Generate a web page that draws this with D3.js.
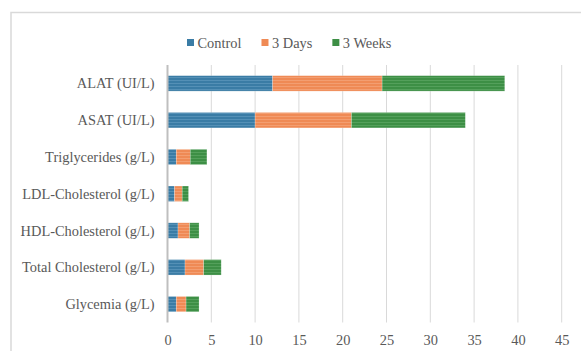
<!DOCTYPE html>
<html>
<head>
<meta charset="utf-8">
<script src="https://cdn.jsdelivr.net/npm/d3@7"></script>
<style>
  html, body { margin: 0; padding: 0; background: #fff; }
  svg { display: block; }
</style>
</head>
<body>
<svg id="chart" width="581" height="351"></svg>
<script>
const categories = ["ALAT (UI/L)", "ASAT (UI/L)", "Triglycerides (g/L)", "LDL-Cholesterol (g/L)", "HDL-Cholesterol (g/L)", "Total Cholesterol (g/L)", "Glycemia (g/L)"];
const seriesNames = ["Control", "3 Days", "3 Weeks"];
const control = [12.0, 10.0, 1.0, 0.8, 1.2, 2.0, 1.0];
const days3   = [12.5, 11.0, 1.6, 0.88, 1.33, 2.13, 1.12];
const weeks3  = [14.0, 13.0, 1.9, 0.72, 1.07, 2.0, 1.48];
const tickValues = [0, 5, 10, 15, 20, 25, 30, 35, 40, 45];
const colors = ["#3a7ca5", "#ef8a55", "#3d8f45"];
const stripeColors = ["#5a95ba", "#f5a378", "#5aa560"];

const svg = d3.select("#chart");
const font = "'Liberation Serif', 'Times New Roman', serif";
const fs = 14.4;

// stripe patterns
const defs = svg.append("defs");
colors.forEach((c, i) => {
  const p = defs.append("pattern").attr("id", "pat" + i)
    .attr("patternUnits", "userSpaceOnUse").attr("width", 6).attr("height", 3);
  p.append("rect").attr("width", 6).attr("height", 3).attr("fill", c);
  p.append("rect").attr("y", 2).attr("width", 6).attr("height", 0.8).attr("fill", stripeColors[i]);
});

// border
svg.append("path").attr("d", "M11,351 L11,12.5 L581,12.5")
  .attr("fill", "none").attr("stroke", "#d9d9d9").attr("stroke-width", 1.5);

const x = d3.scaleLinear().domain([0, 45]).range([167.5, 561.7]);
const y = d3.scaleBand().domain(categories).range([65, 322.5]).paddingInner(0.58).paddingOuter(0.29);

// gridlines
svg.append("g").selectAll("line").data(tickValues.slice(1)).join("line")
  .attr("x1", d => x(d)).attr("x2", d => x(d))
  .attr("y1", 65).attr("y2", 322.5)
  .attr("stroke", "#d9d9d9").attr("stroke-width", 1);

// stacked bars
const rows = categories.map((c, i) => ({cat: c, Control: control[i], "3 Days": days3[i], "3 Weeks": weeks3[i]}));
const stacked = d3.stack().keys(seriesNames)(rows);
stacked.forEach((s, si) => {
  svg.append("g").selectAll("rect").data(s).join("rect")
    .attr("x", d => x(d[0]))
    .attr("width", d => x(d[1]) - x(d[0]))
    .attr("y", d => y(d.data.cat))
    .attr("height", y.bandwidth())
    .attr("fill", "url(#pat" + si + ")")
    .attr("stroke", "#ffffff").attr("stroke-opacity", 0.35).attr("stroke-width", 0.6);
});

// vertical axis line
svg.append("line").attr("x1", x(0)).attr("x2", x(0)).attr("y1", 65).attr("y2", 322.5)
  .attr("stroke", "#bfbfbf").attr("stroke-width", 2);

// category labels
svg.append("g").selectAll("text").data(categories).join("text")
  .attr("x", x(0) - 13).attr("y", d => y(d) + y.bandwidth() / 2)
  .attr("dy", "0.35em").attr("text-anchor", "end")
  .attr("font-family", font).attr("font-size", fs).attr("fill", "#595959")
  .text(d => d);

// x tick labels
const xAxis = d3.axisBottom(x).tickValues(tickValues).tickSize(0).tickPadding(0);
const ax = svg.append("g").attr("transform", "translate(0,335)").call(xAxis);
ax.select(".domain").remove();
ax.selectAll("text").attr("font-family", font).attr("font-size", fs).attr("fill", "#595959");

// legend
const legend = svg.append("g");
let lx = 187;
seriesNames.forEach((name, i) => {
  const g = legend.append("g");
  g.append("rect").attr("x", lx).attr("y", 39).attr("width", 7).attr("height", 7).attr("fill", colors[i]);
  const t = g.append("text").attr("x", lx + 10.5).attr("y", 48)
    .attr("font-family", font).attr("font-size", fs).attr("fill", "#595959").text(name);
  lx += 10.5 + t.node().getComputedTextLength() + 20;
});
</script>
</body>
</html>
